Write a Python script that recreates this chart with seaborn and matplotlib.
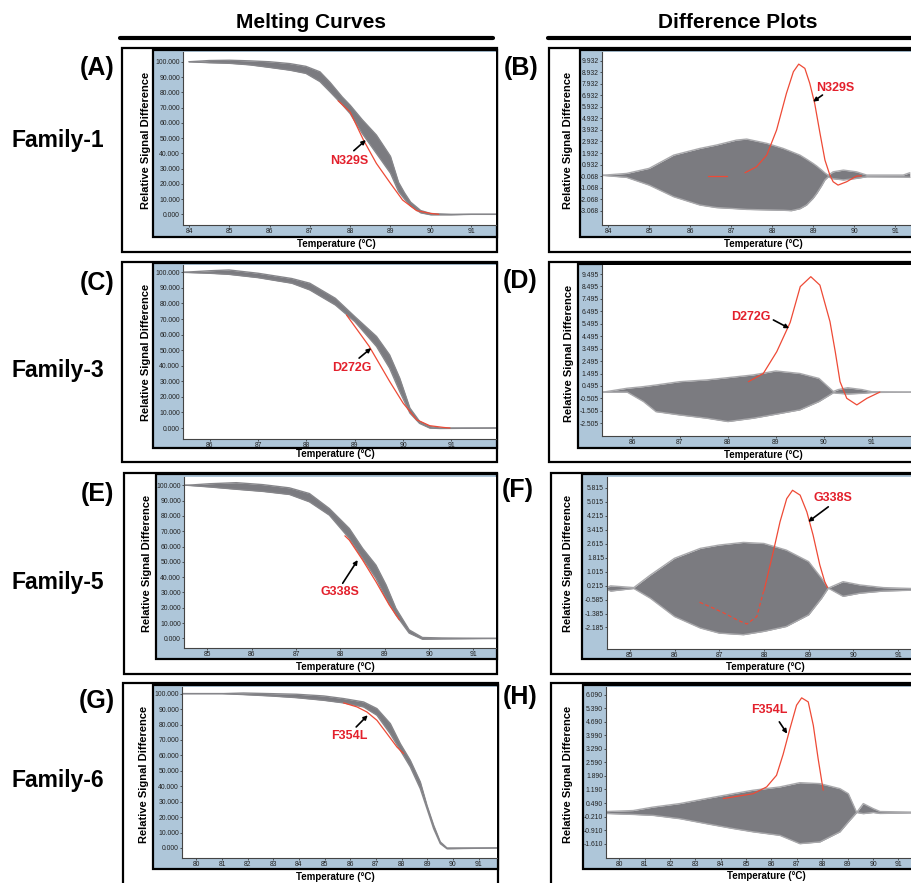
import matplotlib
matplotlib.use("Agg")
import matplotlib.pyplot as plt
import seaborn as sns
import pandas as pd
from matplotlib.patches import Rectangle
from matplotlib.lines import Line2D

sns.set_theme(style="white")
plt.rcParams['font.family'] = ['Liberation Sans', 'DejaVu Sans']
plt.rcParams['text.color'] = 'black'

# ---- data ----
# panel A: melting curves, family 1
a_temp = [84.0, 84.5, 85.0, 85.5, 86.0, 86.5, 86.9, 87.25, 87.5, 87.8, 88.0, 88.3, 88.65, 89.0, 89.2, 89.35, 89.5, 89.75, 90.0, 90.5, 91.0, 91.62]
a_upper = [100, 100.8, 101, 100.6, 100, 98.8, 97, 93.4, 86.5, 77, 71.5, 62, 52, 38, 21, 14, 8, 2.5, 0.5, 0, 0, 0]
a_lower = [100, 99.4, 99, 98, 96.3, 94.5, 92.4, 87, 80.3, 72, 66, 53, 40, 27, 15, 10, 5.5, 1, -0.3, -0.3, 0, 0]
a_red_t = [87.7, 88.0, 88.33, 88.65, 89.0, 89.3, 89.65, 90.0, 90.2]
a_red_v = [74.5, 67, 48.7, 33.4, 20.3, 9.4, 2.4, 0.6, 0]

# panel B: difference plot, family 1
b_temp = [83.85, 84.45, 85.0, 85.6, 86.24, 86.64, 87.13, 87.38, 87.87, 88.27, 88.47, 88.68, 88.84, 89.0, 89.09, 89.21, 89.29, 89.37, 89.49, 89.74, 90.06, 90.31, 91.2, 91.36]
b_upper = [0, 0.16, 0.6, 1.75, 2.33, 2.62, 3.05, 3.14, 2.77, 2.33, 2.05, 1.75, 1.4, 1.03, 0.8, 0.45, 0.2, 0.0, 0.3, 0.45, 0.3, 0.02, 0.02, 0.22]
b_lower = [0, -0.18, -0.85, -1.86, -2.58, -2.8, -2.9, -2.96, -3.0, -3.03, -3.07, -2.9, -2.58, -2.0, -1.57, -0.9, -0.4, -0.13, -0.3, -0.4, -0.27, -0.13, -0.15, -0.18]
b_red_t = [87.34, 87.62, 87.87, 88.11, 88.35, 88.52, 88.65, 88.8, 88.92, 89.04, 89.17, 89.29, 89.41, 89.49, 89.61, 89.82, 90.06, 90.18]
b_red_v = [0.22, 0.74, 1.75, 3.92, 7.1, 8.98, 9.64, 9.27, 7.97, 6.23, 3.63, 1.32, 0.02, -0.56, -0.85, -0.56, -0.07, -0.05]
b_red_seg_t = [86.44, 86.89]
b_red_seg_v = [-0.07, -0.07]

# panel C: melting curves, family 3
c_temp = [85.45, 86.0, 86.4, 87.0, 87.7, 88.07, 88.6, 89.0, 89.45, 89.72, 89.93, 90.14, 90.34, 90.55, 90.76, 91.92]
c_upper = [100, 101, 101.5, 99.4, 96, 93, 83.3, 71.6, 58.8, 47, 32, 12.8, 4.3, 1, 0, 0]
c_lower = [100, 99.4, 98.7, 96.6, 93, 88.7, 79, 68.4, 52.4, 38.5, 23.5, 9.6, 3, 0, -0.3, 0]
c_red_t = [88.83, 89.3, 89.72, 90.0, 90.28, 90.55, 90.83, 90.97]
c_red_v = [72.6, 52.4, 30, 16, 5.3, 1.5, 0.4, 0]

# panel D: difference plot, family 3
d_temp = [85.4, 85.9, 86.24, 86.5, 87.0, 87.56, 88.0, 88.53, 89.0, 89.5, 89.9, 90.2, 90.3, 90.5, 90.8, 91.0, 91.82]
d_upper = [0, 0.31, 0.44, 0.57, 0.84, 0.98, 1.16, 1.38, 1.7, 1.5, 1.1, 0.05, 0.2, 0.35, 0.2, 0.03, 0]
d_lower = [0, 0, -0.76, -1.57, -1.84, -2.1, -2.37, -2.1, -1.78, -1.43, -0.76, -0.05, -0.1, -0.15, -0.1, -0.03, 0]
d_red_t = [88.43, 88.74, 89.02, 89.3, 89.51, 89.73, 89.92, 90.13, 90.24, 90.34, 90.48, 90.69, 90.9, 91.17]
d_red_v = [0.84, 1.5, 3.25, 5.6, 8.48, 9.28, 8.6, 5.67, 3.25, 0.84, -0.5, -1.03, -0.5, 0]

# panel E: melting curves, family 5
e_temp = [84.47, 84.54, 85.05, 85.65, 86.25, 86.85, 87.3, 87.75, 88.2, 88.5, 88.8, 89.03, 89.25, 89.55, 89.85, 90.3, 91.51]
e_upper = [100, 100, 101, 101.7, 100.4, 98.3, 94.6, 84.8, 71.8, 58.8, 47.9, 34.9, 19.7, 5.6, 0.6, 0.3, 0]
e_lower = [100, 100, 98.9, 97.4, 96, 94, 89.2, 80.5, 65.3, 52.3, 39.3, 26.2, 15.4, 3.5, -0.5, -0.3, 0]
e_red_t = [88.1, 88.2, 88.5, 88.8, 89.1, 89.33]
e_red_v = [67, 64.2, 51.2, 37.1, 21.9, 12.1]

# panel F: difference plot, family 5
f_temp = [84.49, 84.57, 85.09, 85.46, 86.0, 86.58, 87.0, 87.54, 88.0, 88.5, 89.0, 89.29, 89.44, 89.77, 90.15, 90.67, 91.29]
f_upper = [0.1, 0.2, 0.1, 0.82, 1.78, 2.35, 2.54, 2.69, 2.63, 2.25, 1.59, 0.63, 0.07, 0.44, 0.25, 0.1, 0.05]
f_lower = [0, -0.1, 0.05, -0.51, -1.56, -2.22, -2.51, -2.6, -2.41, -2.13, -1.46, -0.51, 0.07, -0.4, -0.22, -0.1, -0.05]
f_red_dash_t = [86.56, 86.8, 87.1, 87.4, 87.62, 87.84, 87.99]
f_red_dash_v = [-0.74, -1.0, -1.35, -1.75, -1.99, -1.56, -0.13]
f_red_t = [88.0, 88.21, 88.36, 88.51, 88.64, 88.81, 88.96, 89.1, 89.25, 89.36, 89.42]
f_red_v = [-0.1, 2.16, 3.87, 5.2, 5.68, 5.4, 4.44, 3.11, 1.4, 0.44, 0.1]

# panel G: melting curves, family 6
g_temp = [79.44, 81.0, 81.84, 82.9, 83.9, 84.96, 85.74, 86.52, 87.04, 87.56, 87.95, 88.34, 88.73, 88.99, 89.25, 89.51, 89.77, 91.72]
g_upper = [100, 100, 100.4, 100, 99.6, 98.5, 96.8, 94.6, 90.3, 80.6, 67.6, 56.8, 42.8, 27.6, 14.7, 3.9, 0, 0]
g_lower = [100, 100, 99.4, 98.5, 97.4, 95.7, 94, 91.4, 86, 74, 63.3, 52.5, 38.4, 25.5, 12.5, 2.8, -0.5, 0]
g_red_t = [85.74, 86.26, 86.65, 87.04, 87.43, 87.82, 88.08]
g_red_v = [94, 91.4, 88.1, 82.7, 74.1, 65.4, 61.1]

# panel H: difference plot, family 6
h_temp = [79.48, 80.55, 81.34, 82.39, 83.44, 84.49, 85.28, 86.33, 87.12, 87.91, 88.7, 89.03, 89.36, 89.62, 90.01, 90.28, 91.5]
h_upper = [0.05, 0.1, 0.28, 0.46, 0.72, 0.97, 1.15, 1.32, 1.54, 1.49, 1.23, 0.97, 0.0, 0.46, 0.2, 0.05, 0.02]
h_lower = [-0.05, -0.1, -0.15, -0.32, -0.58, -0.83, -1.0, -1.18, -1.61, -1.52, -1.0, -0.49, 0.0, -0.06, 0.0, -0.05, -0.02]
h_red_t = [84.1, 85.28, 85.81, 86.2, 86.46, 86.73, 86.99, 87.19, 87.45, 87.65, 87.84, 88.04]
h_red_v = [0.72, 0.97, 1.32, 1.92, 3.0, 4.33, 5.54, 5.92, 5.71, 4.5, 2.78, 1.15]

# tick values
melt_yticks = [0, 10, 20, 30, 40, 50, 60, 70, 80, 90, 100]
b_yticks = [9.932, 8.932, 7.932, 6.932, 5.932, 4.932, 3.932, 2.932, 1.932, 0.932, -0.068, -1.068, -2.068, -3.068]
d_yticks = [9.495, 8.495, 7.495, 6.495, 5.495, 4.495, 3.495, 2.495, 1.495, 0.495, -0.505, -1.505, -2.505]
f_yticks = [5.815, 5.015, 4.215, 3.415, 2.615, 1.815, 1.015, 0.215, -0.585, -1.385, -2.185]
h_yticks = [6.090, 5.390, 4.690, 3.990, 3.290, 2.590, 1.890, 1.190, 0.490, -0.210, -0.910, -1.610]
xticks_84 = [84, 85, 86, 87, 88, 89, 90, 91]
xticks_86 = [86, 87, 88, 89, 90, 91]
xticks_85 = [85, 86, 87, 88, 89, 90, 91]
xticks_80 = [80, 81, 82, 83, 84, 85, 86, 87, 88, 89, 90, 91]

mutations = ['N329S', 'N329S', 'D272G', 'D272G', 'G338S', 'G338S', 'F354L', 'F354L']
families = ['Family-1', 'Family-3', 'Family-5', 'Family-6']

W, H = 911, 883
fig = plt.figure(figsize=(W / 100, H / 100), dpi=100)

BLUE = '#aec6d9'
GRAY = '#7b7b80'
RED = '#ee4a36'
LBL_RED = '#e3202c'


def box(l, t, r, b, face, lw, z):
    fig.add_artist(Rectangle((l / W, 1 - b / H), (r - l) / W, (b - t) / H,
                             transform=fig.transFigure, facecolor=face,
                             edgecolor='black', linewidth=lw, clip_on=False, zorder=z))


def panel(geo, temp, upper, lower, xlim, ylim, xticks, yticks, red_parts, note, edge):
    ol, ot, orr, ob = geo['outer']
    box(ol, ot, orr, ob, 'white', 1.6, -3)
    bl, bt, br, bb = geo['blue']
    box(bl, bt, br, bb, BLUE, 1.6, -2)
    pl, pt, pr, pb = geo['plot']
    ax = fig.add_axes([pl / W, 1 - pb / H, (pr - pl) / W, (pb - pt) / H])
    ax.set_facecolor('white')
    ax.fill_between(temp, lower, upper, color=GRAY, linewidth=0, zorder=2)
    df = pd.DataFrame({'t': temp, 'up': upper, 'lo': lower})
    sns.lineplot(data=df, x='t', y='up', color=edge, lw=1.0, ax=ax, zorder=2.5, sort=False)
    sns.lineplot(data=df, x='t', y='lo', color=edge, lw=1.0, ax=ax, zorder=2.5, sort=False)
    for rt, rv, ls in red_parts:
        sns.lineplot(x=rt, y=rv, color=RED, lw=0.9, ls=ls, ax=ax, zorder=3, sort=False)
    ax.set_xlim(*xlim)
    ax.set_ylim(*ylim)
    ax.set_xticks(xticks)
    ax.set_xticklabels([str(v) for v in xticks])
    ax.set_yticks(yticks)
    ax.set_yticklabels(['%.3f' % v for v in yticks])
    ax.tick_params(axis='both', labelsize=4.9, length=1.6, width=0.5, pad=0.6,
                   colors='#222222', direction='out', left=True, bottom=True)
    for s in ['top', 'right']:
        ax.spines[s].set_visible(False)
    for s in ['left', 'bottom']:
        ax.spines[s].set_color('#444444')
        ax.spines[s].set_linewidth(0.8)
    ax.set_xlabel('')
    ax.set_ylabel('')
    (tx, ty), (ax0, ay0), (ax1, ay1), name = note
    ax.text(tx, ty, name, color=LBL_RED, fontsize=9, fontweight='bold',
            ha='center', va='center', zorder=5)
    ax.annotate('', xy=(ax1, ay1), xytext=(ax0, ay0), zorder=5,
                arrowprops=dict(arrowstyle='-|>', color='black', lw=1.2,
                                mutation_scale=6, shrinkA=0, shrinkB=0))
    # axis titles
    cy = (bt + bb) / 2 - 3
    fig.text(geo['ylab_x'] / W, 1 - cy / H, 'Relative Signal Difference', rotation=90,
             ha='center', va='center', fontsize=8, fontweight='bold')
    xx, xy = geo['xlab']
    fig.text(xx / W, 1 - xy / H, 'Temperature (°C)', ha='center', va='center',
             fontsize=7, fontweight='bold')
    return ax


geos = {
    'A': dict(outer=(122, 48, 497, 252), blue=(153, 50, 497, 237), plot=(183, 52, 496, 225), ylab_x=146, xlab=(336, 244)),
    'B': dict(outer=(549, 48, 920, 252), blue=(580, 50, 920, 237), plot=(602, 52, 911, 225), ylab_x=568, xlab=(763, 244)),
    'C': dict(outer=(122, 262, 497, 462), blue=(153, 263, 497, 448), plot=(183, 265, 496, 439), ylab_x=146, xlab=(335, 454)),
    'D': dict(outer=(549, 262, 920, 462), blue=(578, 264, 920, 448), plot=(602, 265, 911, 436), ylab_x=569, xlab=(763, 455)),
    'E': dict(outer=(124, 473, 497, 674), blue=(156, 474, 497, 659), plot=(184, 477, 496, 648), ylab_x=147, xlab=(335, 667)),
    'F': dict(outer=(551, 473, 920, 674), blue=(582, 474, 920, 659), plot=(607, 477, 911, 649), ylab_x=568, xlab=(765, 667)),
    'G': dict(outer=(123, 683, 498, 892), blue=(153, 685, 498, 869), plot=(182, 687, 497, 858), ylab_x=144, xlab=(335, 877)),
    'H': dict(outer=(551, 683, 920, 892), blue=(583, 685, 920, 869), plot=(606, 687, 911, 858), ylab_x=568, xlab=(766, 876)),
}

MELT_EDGE = '#86868a'
DIFF_EDGE = '#a9a9ac'

panel(geos['A'], a_temp, a_upper, a_lower, (83.85, 91.62), (-7.0, 106.4), xticks_84, melt_yticks,
      [(a_red_t, a_red_v, '-')], ((87.98, 35.2), (88.09, 41.7), (88.39, 48.7), mutations[0]), MELT_EDGE)
panel(geos['B'], b_temp, b_upper, b_lower, (83.85, 91.39), (-4.31, 10.69), xticks_84, b_yticks,
      [(b_red_t, b_red_v, '-'), (b_red_seg_t, b_red_seg_v, '-')],
      ((89.53, 7.59), (89.23, 6.96), (89.0, 6.38), mutations[1]), DIFF_EDGE)
panel(geos['C'], c_temp, c_upper, c_lower, (85.45, 91.92), (-7.05, 104.7), xticks_86, melt_yticks,
      [(c_red_t, c_red_v, '-')], ((88.93, 38.5), (89.09, 44.9), (89.34, 51.3), mutations[2]), MELT_EDGE)
panel(geos['D'], d_temp, d_upper, d_lower, (85.375, 91.82), (-3.53, 10.22), xticks_86, d_yticks,
      [(d_red_t, d_red_v, '-')], ((88.48, 6.07), (88.95, 5.8), (89.28, 5.13), mutations[3]), DIFF_EDGE)
panel(geos['E'], e_temp, e_upper, e_lower, (84.47, 91.51), (-6.25, 105.4), xticks_85, melt_yticks,
      [(e_red_t, e_red_v, '-')], ((87.98, 30.6), (88.05, 36.0), (88.39, 51.2), mutations[4]), MELT_EDGE)
panel(geos['F'], f_temp, f_upper, f_lower, (84.49, 91.29), (-3.42, 6.44), xticks_85, f_yticks,
      [(f_red_dash_t, f_red_dash_v, (0, (3, 2))), (f_red_t, f_red_v, '-')],
      ((89.55, 5.21), (89.44, 4.73), (88.99, 3.87), mutations[5]), DIFF_EDGE)
panel(geos['G'], g_temp, g_upper, g_lower, (79.44, 91.72), (-6.5, 104.3), xticks_80, melt_yticks,
      [(g_red_t, g_red_v, '-')], ((85.97, 72.6), (86.23, 78.4), (86.68, 86.0), mutations[6]), MELT_EDGE)
panel(geos['H'], h_temp, h_upper, h_lower, (79.48, 91.5), (-2.35, 6.48), xticks_80, h_yticks,
      [(h_red_t, h_red_v, '-')], ((85.91, 5.28), (86.31, 4.68), (86.62, 4.07), mutations[7]), DIFF_EDGE)

# column headers with underline
fig.text(311 / W, 1 - 22 / H, 'Melting Curves', ha='center', va='center', fontsize=15, fontweight='bold')
fig.text(738 / W, 1 - 22 / H, 'Difference Plots', ha='center', va='center', fontsize=15, fontweight='bold')
fig.add_artist(Line2D([120 / W, 493 / W], [1 - 38 / H, 1 - 38 / H], color='black', lw=3, transform=fig.transFigure))
fig.add_artist(Line2D([548 / W, 1.0], [1 - 38 / H, 1 - 38 / H], color='black', lw=3, transform=fig.transFigure))

# panel letters and family names
letters = [('(A)', 97, 68), ('(B)', 521, 68), ('(C)', 97, 283), ('(D)', 520, 281),
           ('(E)', 97, 494), ('(F)', 518, 490), ('(G)', 97, 701), ('(H)', 520, 697)]
for txt, x, y in letters:
    fig.text(x / W, 1 - y / H, txt, ha='center', va='center', fontsize=18, fontweight='bold')
for name, y in zip(families, [141, 370, 582, 780]):
    fig.text(58 / W, 1 - y / H, name, ha='center', va='center', fontsize=16.5, fontweight='bold')

fig.savefig('out.png', dpi=100)
